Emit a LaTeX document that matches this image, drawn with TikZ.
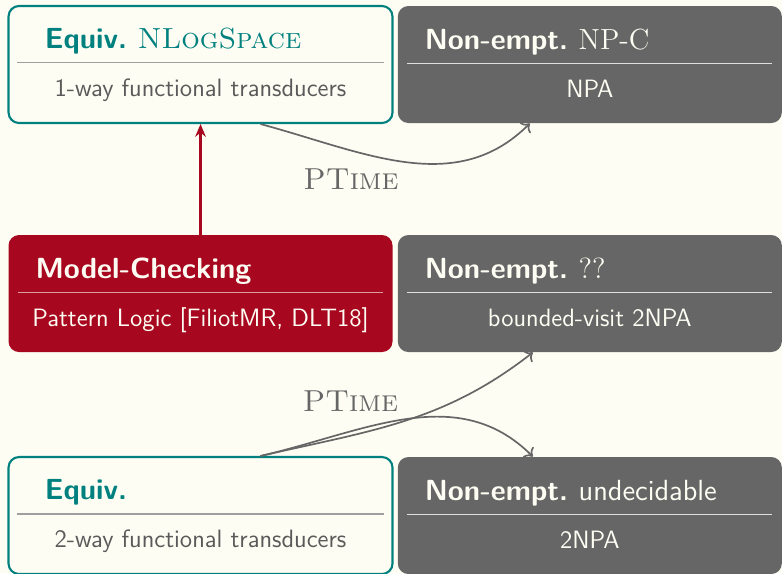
\documentclass[tikz,border=0pt]{standalone}
\usepackage{xcolor}
\usepackage{tikz}
\usetikzlibrary{positioning, arrows.meta}

\definecolor{bgcream}{HTML}{FDFDF3}
\definecolor{dteal}{HTML}{00807F}
\definecolor{dred}{HTML}{A8081F}
\definecolor{boxgray}{HTML}{666666}
\definecolor{txtgray}{HTML}{5A5A5A}

\newcommand{\headfont}{\fontsize{13.8}{16}\selectfont\sffamily\bfseries}
\newcommand{\subfont}{\fontsize{11.9}{14}\selectfont\sffamily}

\begin{document}
\begin{tikzpicture}[
    box/.style={rectangle, rounded corners=5pt, minimum width=6.4cm, minimum height=1.95cm, inner sep=0pt},
    algbox/.style={box, draw=dteal, line width=1pt, fill=bgcream},
    mcbox/.style={box, fill=dred},
    npbox/.style={box, fill=boxgray},
    headtext/.style={anchor=base west, inner sep=0pt, font=\headfont},
    subtext/.style={anchor=base, inner sep=0pt, font=\subfont},
    sepline/.style={line width=0.5pt},
    ptime/.style={anchor=base, inner sep=0pt, text=boxgray, font=\normalfont\fontsize{14.4}{17}\selectfont}
  ]
    % page and background
    \fill[bgcream] (0,0) rectangle (13.033,-9.55);
    \useasboundingbox (0,0) rectangle (13.033,-9.55);

    % the six boxes
    \node[algbox] (eqA) at (3.342,-1.075) {};
    \node[npbox] (npA) at (9.83,-1.075) {};
    \node[mcbox] (mc) at (3.342,-4.892) {};
    \node[npbox] (npB) at (9.83,-4.892) {};
    \node[algbox] (eqB) at (3.342,-8.592) {};
    \node[npbox] (npC) at (9.83,-8.592) {};

    % titles
    \node[headtext, text=dteal] (eqAhead) at ([shift={(0.617,-0.733)}]eqA.north west) {Equiv.\ {\normalfont\textsc{NLogSpace}}};
    \node[headtext, text=bgcream] (npAhead) at ([shift={(0.45,-0.733)}]npA.north west) {Non-empt.\ {\normalfont NP-C}};
    \node[headtext, text=bgcream] (mchead) at ([shift={(0.45,-0.733)}]mc.north west) {Model-Checking};
    \node[headtext, text=bgcream] (npBhead) at ([shift={(0.45,-0.733)}]npB.north west) {Non-empt.\ {\normalfont ??}};
    \node[headtext, text=dteal] (eqBhead) at ([shift={(0.617,-0.733)}]eqB.north west) {Equiv.};
    \node[headtext, text=bgcream] (npChead) at ([shift={(0.45,-0.733)}]npC.north west) {Non-empt.\ {\mdseries undecidable}};

    % separators
    \draw[sepline, gray!75] ([shift={(0.167,-0.967)}]eqA.north west) -- ([shift={(-0.167,-0.967)}]eqA.north east);
    \draw[sepline, white!75!gray] ([shift={(0.167,-0.967)}]npA.north west) -- ([shift={(-0.167,-0.967)}]npA.north east);
    \draw[sepline, white!60!dred] ([shift={(0.167,-0.967)}]mc.north west) -- ([shift={(-0.167,-0.967)}]mc.north east);
    \draw[sepline, white!75!gray] ([shift={(0.167,-0.967)}]npB.north west) -- ([shift={(-0.167,-0.967)}]npB.north east);
    \draw[sepline, gray!75] ([shift={(0.167,-0.967)}]eqB.north west) -- ([shift={(-0.167,-0.967)}]eqB.north east);
    \draw[sepline, white!75!gray] ([shift={(0.167,-0.967)}]npC.north west) -- ([shift={(-0.167,-0.967)}]npC.north east);

    % subtitles
    \node[subtext, text=txtgray] (eqAsub) at ([yshift=-1.533cm]eqA.north) {1-way functional transducers};
    \node[subtext, text=bgcream] (npAsub) at ([yshift=-1.533cm]npA.north) {NPA};
    \node[subtext, text=bgcream] (mcsub) at ([yshift=-1.533cm]mc.north) {Pattern Logic [FiliotMR, DLT18]};
    \node[subtext, text=bgcream] (npBsub) at ([yshift=-1.533cm]npB.north) {bounded-visit 2NPA};
    \node[subtext, text=txtgray] (eqBsub) at ([yshift=-1.533cm]eqB.north) {2-way functional transducers};
    \node[subtext, text=bgcream] (npCsub) at ([yshift=-1.533cm]npC.north) {2NPA};

    % reductions
    \draw[-{Stealth[length=6pt, width=5pt]}, dred, line width=1pt] (mc.north) -- (eqA.south);
    \draw[->, thick, boxgray] ([xshift=1cm]eqA.south) to[out=-15, in=-135] ([xshift=-1cm]npA.south);
    \draw[->, thick, boxgray] ([xshift=1cm]eqB.north) to[out=13, in=-142] ([xshift=-0.95cm]npB.south);
    \draw[->, thick, boxgray] ([xshift=1cm]eqB.north) to[out=13, in=135] ([xshift=-0.95cm]npC.north);

    \node[ptime] (ptA) at (5.85,-3.15) {\textsc{PTime}};
    \node[ptime] (ptB) at (5.84,-6.85) {\textsc{PTime}};
  \end{tikzpicture}
\end{document}
